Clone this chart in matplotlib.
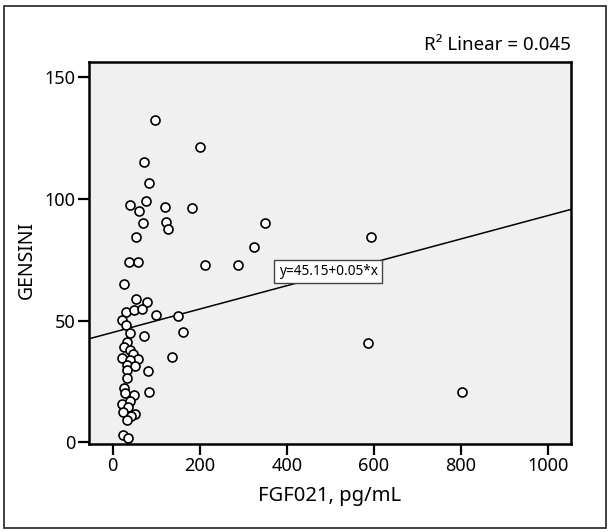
import matplotlib
matplotlib.use("Agg")
import matplotlib.pyplot as plt
from matplotlib.patches import Rectangle
import numpy as np

plt.rcParams['font.family'] = ['Noto Sans', 'DejaVu Sans']

fgf021 = [98, 200, 73, 84, 77, 40, 61, 121, 182, 70, 122, 127, 54, 350, 324, 593, 288,
          587, 803, 38, 57, 212, 26, 54, 78, 30, 48, 67, 99, 151, 21, 31, 40, 161, 72,
          32, 26, 40, 46, 21, 57, 40, 136, 32, 51, 32, 80, 32, 26, 28, 48, 84, 21, 40,
          36, 23, 51, 42, 34, 24, 35]
gensini = [132.5, 121.3, 115.2, 106.7, 99.3, 97.4, 95.1, 96.5, 96.3, 90.0, 90.5, 87.6,
           84.5, 90.2, 80.4, 84.5, 73.0, 41.0, 20.7, 74.0, 74.0, 72.8, 65.1, 58.7, 57.8,
           53.6, 54.3, 54.8, 52.4, 52.1, 50.3, 48.0, 45.1, 45.4, 43.7, 41.4, 39.2, 38.0,
           36.2, 34.8, 34.3, 33.9, 35.1, 31.9, 31.4, 29.8, 29.5, 26.6, 22.5, 20.2, 19.4,
           20.6, 15.9, 17.0, 14.7, 12.4, 11.8, 10.9, 9.3, 2.9, 1.7]

intercept = 45.15
slope = 0.048
eq_label = "y=45.15+0.05*x"
r2_label = "R\u00b2 Linear = 0.045"
xticks = [0, 200, 400, 600, 800, 1000]
yticks = [0, 50, 100, 150]

fig = plt.figure(figsize=(6.11, 5.32), dpi=100)
ax = fig.add_axes([89/611, 1-443.5/532, (571-89)/611, (443.5-62)/532])
ax.set_facecolor('#f0f0f0')

xlim = (-54.5, 1053.5)
ylim = (-0.5, 156.3)
ax.set_xlim(*xlim)
ax.set_ylim(*ylim)

lx = np.array(xlim)
ax.plot(lx, intercept + slope * lx, color='black', lw=1.1, zorder=2)

ax.scatter(fgf021, gensini, s=42, facecolor='white', edgecolor='black',
           linewidth=1.2, zorder=3)

ax.text(495, 70.2, eq_label, fontsize=9.8, ha='center', va='center', zorder=4,
        bbox=dict(boxstyle='square,pad=0.3', facecolor='white', edgecolor='#444444', lw=1))

ax.set_xticks(xticks)
ax.set_yticks(yticks)
ax.tick_params(direction='out', length=8, width=1.6, labelsize=13, pad=1.5)
for sp in ax.spines.values():
    sp.set_linewidth(1.8)

ax.set_xlabel("FGF021, pg/mL", fontsize=14.5, labelpad=8)
ax.set_ylabel("GENSINI", fontsize=14, labelpad=10)
ax.yaxis.set_label_coords((37-89)/482, (443.5-260)/381.5)

fig.text(571/611, 1-45/532, r2_label, fontsize=13.5, ha='right', va='center')

fig.patches.append(Rectangle((4/611, 1-528/532), (606-4)/611, (528-6)/532,
                             transform=fig.transFigure, fill=False,
                             edgecolor='#333333', lw=1.3))

fig.savefig("out.png", dpi=100)
